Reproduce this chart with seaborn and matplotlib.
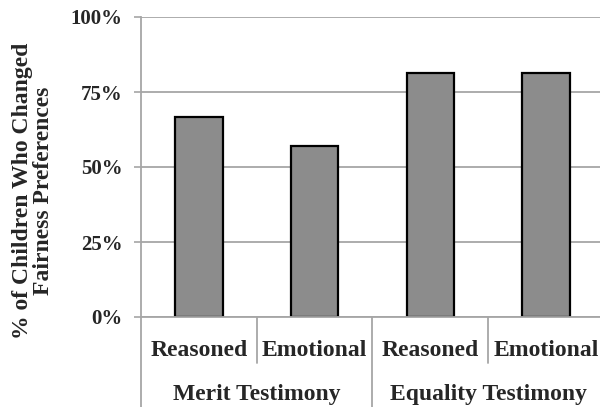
import seaborn as sns
import pandas as pd
import matplotlib.pyplot as plt
import matplotlib.transforms as mtransforms

testimony = ["Merit Testimony", "Merit Testimony", "Equality Testimony", "Equality Testimony"]
condition = ["Reasoned", "Emotional", "Reasoned", "Emotional"]
pct_changed = [66.7, 57.1, 81.3, 81.3]
y_ticks = [0, 25, 50, 75, 100]
groups = ["Merit Testimony", "Equality Testimony"]

df = pd.DataFrame({"testimony": testimony, "condition": condition, "pct": pct_changed})
df["key"] = df["testimony"] + " / " + df["condition"]

sns.set_style("white")
plt.rcParams["font.family"] = ["Liberation Serif", "DejaVu Serif"]
plt.rcParams["font.weight"] = "bold"

grid_gray = "#a6a6a6"

fig = plt.figure(figsize=(6, 4.07), dpi=100)
ax = fig.add_axes([141 / 600, 90 / 407, 462.8 / 600, 300 / 407])

sns.barplot(data=df, x="key", y="pct", order=list(df["key"]), color="#8c8c8c",
            saturation=1, edgecolor="black", linewidth=1.6, width=0.41, ax=ax)

ax.set_ylim(0, 100)
ax.set_xlim(-0.5, 3.5)
ax.set_yticks(y_ticks)
ax.set_yticklabels([f"{v}%" for v in y_ticks], fontsize=15, fontweight="bold")
ax.tick_params(axis="y", length=5, width=1.2, color=grid_gray, pad=8.5, left=True)
ax.set_xticks(range(len(df)))
ax.set_xticklabels([])
ax.tick_params(axis="x", length=0)
ax.set_xlabel("")
ax.set_ylabel("")

ax.yaxis.grid(True, color=grid_gray, linewidth=1.3)
ax.set_axisbelow(True)
for side in ["top", "right"]:
    ax.spines[side].set_visible(False)
for side in ["left", "bottom"]:
    ax.spines[side].set_color(grid_gray)
    ax.spines[side].set_linewidth(1.3)

trans = mtransforms.blended_transform_factory(ax.transData, ax.transAxes)

# condition labels and group labels under the axis
for i, c in enumerate(df["condition"]):
    ax.text(i, -0.13, c, transform=trans, ha="center", va="baseline",
            fontsize=17, fontweight="bold")
for j, g in enumerate(groups):
    ax.text(j * 2 + 0.5, -0.277, g, transform=trans, ha="center", va="baseline",
            fontsize=17, fontweight="bold")

# separators between categories
for b in [-0.5, 0.5, 1.5, 2.5]:
    bottom = -0.3 if b in (-0.5, 1.5) else -0.153
    ax.plot([b, b], [0, bottom], transform=trans, color=grid_gray,
            linewidth=1.3, clip_on=False)

fig.text(0.055, 0.532, "% of Children Who Changed\nFairness Preferences",
         rotation=90, ha="center", va="center", multialignment="center",
         fontsize=17, fontweight="bold", linespacing=1.0)

fig.savefig("out.png", dpi=100)
